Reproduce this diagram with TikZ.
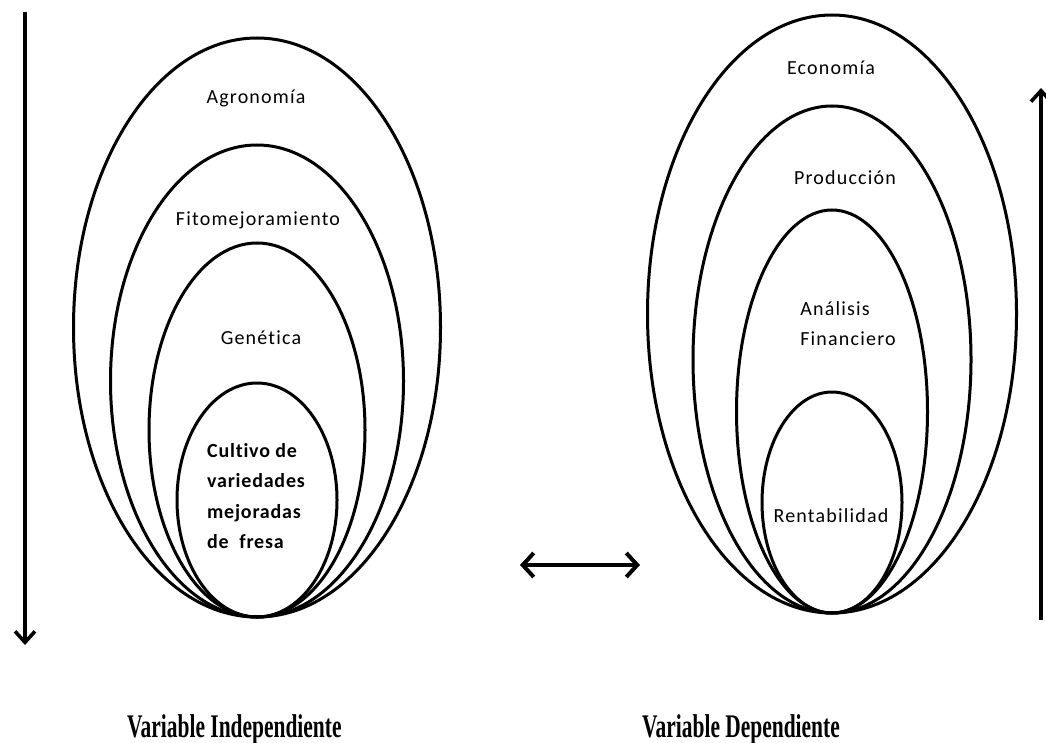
\documentclass[tikz,border=0pt]{standalone}
\usepackage{graphicx}
\usepackage{fontspec}
\setmainfont{Carlito}
\newfontfamily\lblfont{Carlito}[LetterSpace=6,Ligatures={NoCommon}]
\newfontfamily\cultfont{Carlito}[LetterSpace=4,Ligatures={NoCommon}]
\newfontfamily\varfont{Liberation Serif}
\usetikzlibrary{arrows.meta}
\begin{document}
\begin{tikzpicture}[x=1pt,y=-1pt,
  ring/.style={line width=3pt},
  lbl/.style={font={\lblfont\fontsize{20}{24}\selectfont}, inner sep=0pt},
  cult/.style={font={\cultfont\bfseries\fontsize{20}{30.5}\selectfont}, align=left, inner sep=0pt},
  twoline/.style={font={\lblfont\fontsize{20}{30}\selectfont}, align=left, inner sep=0pt},
  varlbl/.style={font={\varfont\bfseries\fontsize{33}{36}\selectfont}, inner sep=0pt, anchor=base west},
  bigarrow/.style={line width=3.4pt, -{Straight Barb[length=11pt,width=20pt,line width=3.6pt]}},
  dblarrow/.style={line width=3.6pt, {Straight Barb[length=11pt,width=24pt,line width=4pt]}-{Straight Barb[length=11pt,width=24pt,line width=4pt]}}]
\useasboundingbox[fill=white] (0,0) rectangle (1046,743);

% left nested ellipses
\draw[ring] (257,327.5) ellipse [x radius=183.5, y radius=289.5];
\draw[ring] (257,381) ellipse [x radius=146.5, y radius=236];
\draw[ring] (257,430) ellipse [x radius=108, y radius=187];
\draw[ring] (257,500) ellipse [x radius=80, y radius=117];

% right nested ellipses
\draw[ring] (832,314) ellipse [x radius=184.5, y radius=299];
\draw[ring] (832,359.5) ellipse [x radius=139, y radius=253.5];
\draw[ring] (832,411.5) ellipse [x radius=95.5, y radius=201.5];
\draw[ring] (832,502.5) ellipse [x radius=70, y radius=110.5];

% labels
\node[lbl] (agro) at (256,98) {Agronomía};
\node[lbl] (fito) at (258,220) {Fitomejoramiento};
\node[lbl] (gene) at (261,338) {Genética};
\node[cult] (cult) at (256,496) {Cultivo de\\variedades\\mejoradas\\de~ fresa};

\node[lbl] (econ) at (831,68) {Economía};
\node[lbl] (prod) at (845,178) {Producción};
\node[twoline] (anal) at (848,324) {Análisis\\Financiero};
\node[lbl] (rent) at (831,516) {Rentabilidad};

\node[varlbl] (vind) at (127,737) {\scalebox{0.65}[1]{Variable Independiente}};
\node[varlbl] (vdep) at (642,737) {\scalebox{0.65}[1]{Variable Dependiente}};

% arrows
\coordinate (la1) at (25,12);
\coordinate (la2) at (25,645);
\draw[bigarrow] (la1) -- (la2);
\coordinate (ra1) at (1041,620);
\coordinate (ra2) at (1041,88);
\draw[bigarrow] (ra1) -- (ra2);
\coordinate (d1) at (520,565);
\coordinate (d2) at (640,565);
\draw[dblarrow] (d1) -- (d2);
\end{tikzpicture}
\end{document}
